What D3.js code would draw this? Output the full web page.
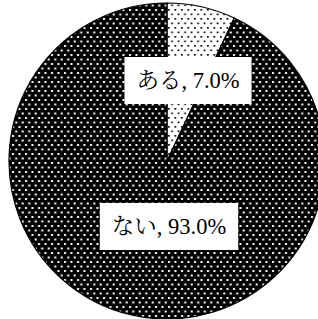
<!DOCTYPE html>
<html>
<head>
<meta charset="utf-8">
<script src="https://cdn.jsdelivr.net/npm/d3@7"></script>
<style>
  body { margin: 0; background: #fff; }
</style>
</head>
<body>
<div id="chart"></div>
<script>
// Data
const categories = ["ある", "ない"];
const values = [7.0, 93.0];
const labels = ["ある, 7.0%", "ない, 93.0%"];

const width = 318, height = 319;
const cx = 167, cy = 161, radius = 158;

const svg = d3.select("#chart").append("svg")
    .attr("width", width)
    .attr("height", height);

// Dot patterns
const defs = svg.append("defs");
function dotPattern(id, bg, fg, size) {
  const p = defs.append("pattern")
      .attr("id", id)
      .attr("patternUnits", "userSpaceOnUse")
      .attr("width", 6.5)
      .attr("height", 9);
  p.append("rect").attr("width", 6.5).attr("height", 9).attr("fill", bg);
  p.append("rect").attr("x", 1).attr("y", 1).attr("width", size).attr("height", size).attr("fill", fg);
  p.append("rect").attr("x", 4.25).attr("y", 5.5).attr("width", size).attr("height", size).attr("fill", fg);
}
dotPattern("lightDots", "#fff", "#000", 1.7);
dotPattern("darkDots", "#000", "#fff", 2);

const fills = ["url(#lightDots)", "url(#darkDots)"];

const pie = d3.pie().sort(null).value(d => d);
const arcs = pie(values);
const arc = d3.arc().innerRadius(0).outerRadius(radius);

const g = svg.append("g").attr("transform", `translate(${cx},${cy})`);

g.selectAll("path.slice")
  .data(arcs)
  .enter().append("path")
    .attr("class", "slice")
    .attr("d", arc)
    .attr("fill", (d, i) => fills[i])
    .attr("stroke", "#000")
    .attr("stroke-width", 1.2);

// Label placement (offsets from centre)
const labelPos = [[21, -81], [2, 65]];

const lab = g.selectAll("g.label")
  .data(arcs)
  .enter().append("g")
    .attr("class", "label")
    .attr("transform", (d, i) => `translate(${labelPos[i][0]},${labelPos[i][1]})`);

lab.append("text")
    .attr("text-anchor", "middle")
    .attr("dy", "0.36em")
    .attr("font-family", "'Liberation Serif', 'Noto Serif CJK JP', 'Noto Sans CJK JP', serif")
    .attr("font-size", 22.5)
    .attr("fill", "#000")
    .text((d, i) => labels[i]);

lab.each(function() {
  const t = d3.select(this).select("text");
  const b = t.node().getBBox();
  d3.select(this).insert("rect", "text")
      .attr("x", b.x - 12)
      .attr("y", -23)
      .attr("width", b.width + 24)
      .attr("height", 47)
      .attr("fill", "#fff");
});
</script>
</body>
</html>
